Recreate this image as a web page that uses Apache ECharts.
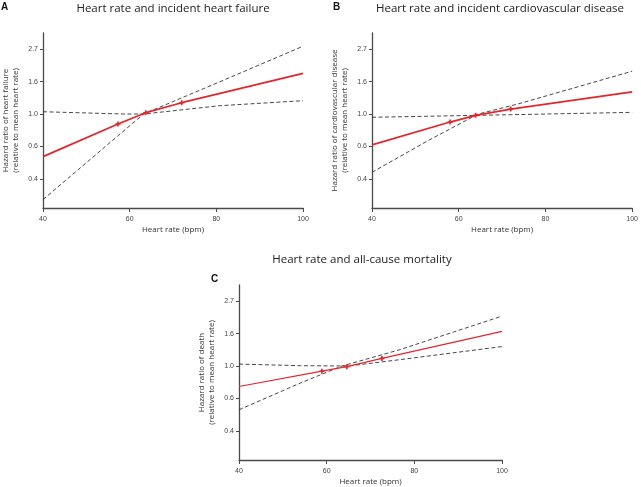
<!DOCTYPE html>
<html>
<head>
<meta charset="utf-8">
<script src="https://cdn.jsdelivr.net/npm/echarts@6/dist/echarts.min.js"></script>
<style>
  html, body { margin: 0; padding: 0; background: #fff; }
  #chart { width: 641px; height: 487px; }
</style>
</head>
<body>
<div id="chart"></div>
<script>
// values (hazard ratio relative to mean heart rate)
const xTickLabels = ['40', '60', '80', '100']
const yTickLabels = ['0.4', '0.6', '1.0', '1.6', '2.7']
const yTickLogs = [-1, -0.5, 0, 0.5, 1] // ticks sit on the log scale

// A: incident heart failure
const hrA_rate = [40, 57.3, 63.7, 72, 100]
const hrA_ratio = [0.518, 0.857, 1.02, 1.19, 1.87]
const hrA_steepRate = [40, 63.2, 80.8, 100]
const hrA_steepRatio = [0.267, 1.0, 1.644, 2.846]
const hrA_flatRate = [40, 58.6, 63.2, 80.8, 100]
const hrA_flatRatio = [1.036, 1.0, 1.0, 1.137, 1.228]

// B: incident cardiovascular disease
const cvdB_rate = [40, 58, 63.9, 72, 100]
const cvdB_ratio = [0.621, 0.884, 0.98, 1.08, 1.409]
const cvdB_steepRate = [40, 53.2, 64.5, 73.6, 100]
const cvdB_steepRatio = [0.407, 0.67, 1.0, 1.166, 1.935]
const cvdB_flatRate = [40, 64.5, 100]
const cvdB_flatRatio = [0.951, 0.98, 1.026]

// C: all-cause mortality
const mortC_rate = [40, 58.9, 64.6, 72.6, 100]
const mortC_ratio = [0.729, 0.923, 0.99, 1.125, 1.707]
const mortC_steepRate = [40, 54, 63.5, 76.7, 100]
const mortC_steepRatio = [0.509, 0.769, 1.0, 1.287, 2.16]
const mortC_flatRate = [40, 54, 65, 76.7, 100]
const mortC_flatRatio = [1.03, 1.005, 1.0, 1.103, 1.35]

const panels = [
  { letter: 'A', title: 'Heart rate and incident heart failure', yName: 'Hazard ratio of heart failure\n(relative to mean heart rate)',
    grid: { left: 42, top: 33, width: 261, height: 175 }, red: [hrA_rate, hrA_ratio], steep: [hrA_steepRate, hrA_steepRatio], flat: [hrA_flatRate, hrA_flatRatio],
    redWidth: 1.8, titleX: 173, titleY: 3, letterX: 1, letterY: 2 },
  { letter: 'B', title: 'Heart rate and incident cardiovascular disease', yName: 'Hazard ratio of cardiovascular disease\n(relative to mean heart rate)',
    grid: { left: 372, top: 33, width: 262, height: 175 }, red: [cvdB_rate, cvdB_ratio], steep: [cvdB_steepRate, cvdB_steepRatio], flat: [cvdB_flatRate, cvdB_flatRatio],
    redWidth: 1.8, titleX: 500, titleY: 3, letterX: 333, letterY: 2 },
  { letter: 'C', title: 'Heart rate and all-cause mortality', yName: 'Hazard ratio of death\n(relative to mean heart rate)',
    grid: { left: 239, top: 285, width: 263, height: 175 }, red: [mortC_rate, mortC_ratio], steep: [mortC_steepRate, mortC_steepRatio], flat: [mortC_flatRate, mortC_flatRatio],
    redWidth: 1.2, titleX: 362, titleY: 254, letterX: 211, letterY: 274 }
]

function toPoints (rates, ratios) {
  return rates.map((r, i) => [r, Math.log(ratios[i])])
}

function yLabel (v) {
  const i = yTickLogs.findIndex(p => Math.abs(p - v) < 1e-6)
  return i >= 0 ? yTickLabels[i] : ''
}

const axisColor = '#4a4a4a'
const grids = []
const xAxes = []
const yAxes = []
const series = []
const graphics = []

panels.forEach((p, k) => {
  grids.push(p.grid)
  xAxes.push({
    gridIndex: k,
    type: 'value',
    min: 40,
    max: 100,
    interval: 20,
    name: 'Heart rate (bpm)',
    nameLocation: 'middle',
    nameGap: 18,
    nameTextStyle: { fontFamily: 'Open Sans', fontSize: 8, color: '#333' },
    axisLine: { onZero: false, lineStyle: { color: axisColor, width: 1.3 } },
    axisTick: { show: true, inside: false, length: 4, lineStyle: { color: axisColor } },
    axisLabel: { margin: 8, fontFamily: 'Liberation Sans', fontSize: 7, color: '#444',
      formatter: v => xTickLabels[(v - 40) / 20] || '' },
    splitLine: { show: false }
  })
  yAxes.push({
    gridIndex: k,
    type: 'value',
    min: -1.45,
    max: 1.25,
    name: p.yName,
    nameLocation: 'middle',
    nameGap: 22,
    nameTextStyle: { fontFamily: 'Open Sans', fontSize: 8, lineHeight: 10, color: '#333' },
    axisLine: { show: true, onZero: false, lineStyle: { color: axisColor, width: 1.3 } },
    axisTick: { show: true, inside: false, length: 3, customValues: yTickLogs, lineStyle: { color: axisColor } },
    axisLabel: { margin: 5, fontFamily: 'Liberation Sans', fontSize: 7, color: '#444', customValues: yTickLogs, formatter: yLabel },
    splitLine: { show: false }
  })

  const redPts = toPoints(p.red[0], p.red[1]).map((pt, i, arr) => ({
    value: pt,
    symbol: (i === 0 || i === arr.length - 1) ? 'none' : 'path://M1,0H2V1H3V2H2V3H1V2H0V1H1Z'
  }))
  series.push({
    type: 'line', xAxisIndex: k, yAxisIndex: k, data: toPoints(p.steep[0], p.steep[1]),
    showSymbol: false, silent: true, lineStyle: { color: '#333', width: 0.9, type: [4, 2.5] }
  })
  series.push({
    type: 'line', xAxisIndex: k, yAxisIndex: k, data: toPoints(p.flat[0], p.flat[1]),
    showSymbol: false, silent: true, lineStyle: { color: '#333', width: 0.9, type: [4, 2.5] }
  })
  series.push({
    type: 'line', xAxisIndex: k, yAxisIndex: k, data: redPts,
    showSymbol: true, showAllSymbol: true, symbolSize: 5, silent: true,
    itemStyle: { color: '#e3262b' },
    lineStyle: { color: '#e3262b', width: p.redWidth }
  })

  graphics.push({
    type: 'text', x: p.titleX, y: p.titleY,
    style: { text: p.title, textAlign: 'center', textVerticalAlign: 'top', fontFamily: 'Open Sans', fontSize: 11.5, fill: '#222' }
  })
  graphics.push({
    type: 'text', x: p.letterX, y: p.letterY,
    style: { text: p.letter, fontFamily: 'Liberation Sans', fontWeight: 'bold', fontSize: 10, fill: '#111' }
  })
})

const chart = echarts.init(document.getElementById('chart'))
chart.setOption({
  animation: false,
  backgroundColor: '#fff',
  grid: grids,
  xAxis: xAxes,
  yAxis: yAxes,
  series: series,
  graphic: graphics
})
</script>
</body>
</html>
